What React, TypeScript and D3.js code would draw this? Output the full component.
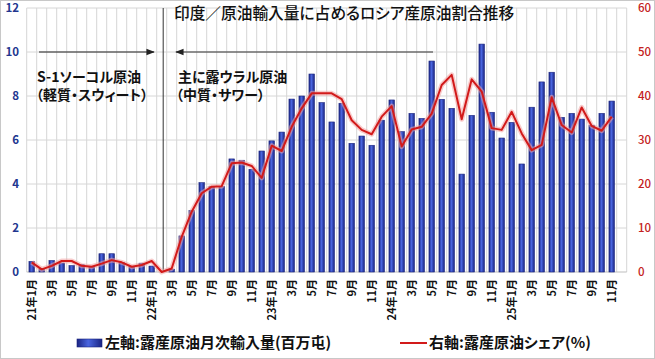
import * as d3 from 'd3';
import React from 'react';

// 2021/1 .. 2025/11, monthly
const years = ['21', '22', '23', '24', '25'];
const monthCount = 60;

// left axis: Russian crude monthly imports (million t)
const imports = [
  0.48, 0.15, 0.52, 0.41, 0.29, 0.33, 0.26, 0.83, 0.83, 0.44, 0.26, 0.4,
  0.27, 0, 0.13, 1.64, 2.79, 4.06, 3.88, 3.88, 5.14, 5.08, 4.67, 5.5,
  5.96, 6.36, 7.86, 8.0, 9.0, 7.7, 6.82, 7.67, 5.85, 6.18, 5.76, 6.9,
  7.82, 6.38, 7.21, 6.98, 9.59, 7.85, 7.44, 4.45, 7.12, 10.36, 7.26, 6.09,
  6.8, 4.91, 7.49, 8.64, 9.08, 7.03, 7.21, 6.95, 6.67, 7.21, 7.77,
];

// right axis: Russian crude share (%)
const share = [
  2.2, 0.6, 1.4, 2.5, 2.5, 1.4, 1.2, 1.9, 2.7, 2.2, 1.2, 1.6,
  2.5, 0, 0.8, 8.0, 13.7, 17.9, 19.4, 19.5, 24.7, 24.9, 24.1, 21.4,
  28.7, 27.5, 33.0, 37.2, 40.6, 40.6, 40.6, 39.3, 34.5, 32.3, 31.3, 35.3,
  37.7, 28.5, 32.4, 33.0, 36.0, 42.5, 44.8, 34.7, 43.8, 41.0, 32.7, 32.3,
  36.4, 31.5, 27.7, 28.9, 39.7, 33.4, 31.7, 37.4, 33.2, 32.1, 35.3,
];

const leftTicks = [0, 2, 4, 6, 8, 10, 12];
const rightTicks = [0, 10, 20, 30, 40, 50, 60];

const title = '印度／原油輸入量に占めるロシア産原油割合推移';
const legendBar = '左軸:露産原油月次輸入量(百万屯)';
const legendLine = '右軸:露産原油シェア(%)';

const W = 655;
const H = 359;
const font = '"Noto Sans CJK JP", "Noto Sans", sans-serif';

const monthLabel = (i: number) => {
  const m = (i % 12) + 1;
  return m === 1 ? `${years[Math.floor(i / 12)]}年1月` : `${m}月`;
};

export default function App() {
  const x = d3.scaleBand<number>()
    .domain(d3.range(monthCount))
    .range([26.7, 626.7])
    .padding(0);
  const yL = d3.scaleLinear().domain([0, 12]).range([272, 8]);
  const yR = d3.scaleLinear().domain([0, 60]).range([272, 8]);
  const bw = x.bandwidth();
  const barW = bw * 0.55;
  const cx = (i: number) => (x(i) ?? 0) + bw / 2;

  const line = d3.line<number>()
    .x((_, i) => cx(i))
    .y(d => yR(d));

  const divX = cx(13) + 1.5;
  const arrowY = yL(10);

  return (
    <svg width={W} height={H} style={{ position: 'absolute', left: 0, top: 0, fontFamily: font, fontFeatureSettings: '"palt"' }}>
      <defs>
        <linearGradient id="barGrad" x1="0" x2="1" y1="0" y2="0">
          <stop offset="0" stopColor="#1a2482" />
          <stop offset="0.45" stopColor="#4a66e0" />
          <stop offset="1" stopColor="#1a2482" />
        </linearGradient>
        <marker id="ah" viewBox="0 0 10 10" refX="9" refY="5" markerWidth="7" markerHeight="7" orient="auto-start-reverse">
          <path d="M0,1 L10,5 L0,9 z" fill="#222" />
        </marker>
      </defs>
      <rect x={0.5} y={0.5} width={W - 1} height={H - 1} fill="#fff" stroke="#c8c8c8" />

      {/* grid */}
      {d3.range(monthCount + 1).map(i => {
        const gx = i === monthCount ? x.range()[1] : (x(i) ?? 0);
        return <line key={'v' + i} x1={gx} x2={gx} y1={yL(12)} y2={yL(0)} stroke="#d6d6d6" />;
      })}
      {leftTicks.map(t => (
        <line key={'h' + t} x1={x.range()[0]} x2={x.range()[1]} y1={yL(t)} y2={yL(t)} stroke={t === 0 ? '#bdbdbd' : '#d6d6d6'} />
      ))}

      {/* bars */}
      {imports.map((v, i) => v > 0 && (
        <rect key={'b' + i} x={cx(i) - barW / 2} y={yL(v)} width={barW} height={yL(0) - yL(v)}
          fill="url(#barGrad)" stroke="#1a237e" strokeWidth={0.6} />
      ))}

      {/* divider */}
      <line x1={divX} x2={divX} y1={yL(12)} y2={yL(0)} stroke="#333" strokeWidth={1} />

      {/* share line */}
      <path d={line(share) ?? ''} fill="none" stroke="#f3a3a3" strokeOpacity={0.55} strokeWidth={5} strokeLinejoin="round" />
      <path d={line(share) ?? ''} fill="none" stroke="#d21a1a" strokeWidth={2} strokeLinejoin="round" />

      {/* arrows */}
      <line x1={39} x2={154} y1={arrowY} y2={arrowY} stroke="#222" strokeWidth={1.2} markerEnd="url(#ah)" />
      <line x1={433} x2={176} y1={arrowY} y2={arrowY} stroke="#333" strokeWidth={1.2} markerEnd="url(#ah)" />

      {/* annotations */}
      <text x={174} y={19} fontSize={15.7} fontWeight={500} fill="#111">{title}</text>
      <g fontSize={14} fontWeight="bold" fill="#111">
        <text x={37} y={82}>S-1ソーコル原油</text>
        <text x={36} y={100}>（軽質・スウィート）</text>
        <text x={178} y={82}>主に露ウラル原油</text>
        <text x={176} y={100}>（中質・サワー）</text>
      </g>

      {/* left axis */}
      {leftTicks.map(t => (
        <text key={'l' + t} x={19} y={yL(t)} dy="0.35em" textAnchor="end" fontSize={11.5} fontWeight="bold" fill="#22368f">{t}</text>
      ))}
      {/* right axis */}
      {rightTicks.map(t => (
        <text key={'r' + t} x={638} y={yR(t)} dy="0.35em" fontSize={11.5} fontWeight={500} fill="#c42222">{t}</text>
      ))}

      {/* x labels */}
      {d3.range(0, monthCount, 2).filter(i => i < imports.length).map(i => (
        <text key={'x' + i} transform={`translate(${cx(i)},279) rotate(-90)`} textAnchor="end" dy="0.35em"
          fontSize={11} fontWeight="bold" fill="#111">{monthLabel(i)}</text>
      ))}

      {/* legend */}
      <rect x={77} y={339} width={25} height={8} fill="url(#barGrad)" stroke="#1a237e" strokeWidth={0.6} />
      <text x={105} y={343} dy="0.36em" fontSize={15} fontWeight="bold" fill="#111">{legendBar}</text>
      <line x1={400} x2={427} y1={343} y2={343} stroke="#d21a1a" strokeWidth={2} />
      <text x={429} y={343} dy="0.36em" fontSize={15} fontWeight="bold" fill="#111">{legendLine}</text>
    </svg>
  );
}
